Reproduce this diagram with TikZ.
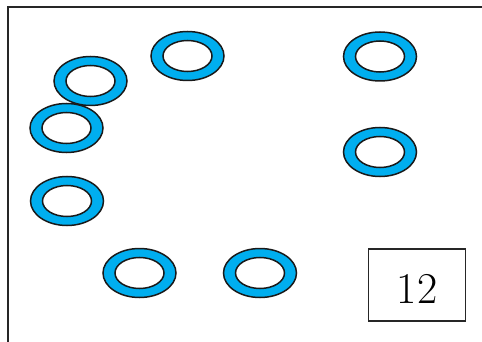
\documentclass[tikz,border=0pt]{standalone}
\definecolor{ringblue}{HTML}{00AEEF}
\usetikzlibrary{shapes.geometric}
\tikzset{
  ringouter/.style={ellipse, draw=black!90, line width=1.5pt, fill=ringblue, minimum width=73pt, minimum height=49pt, inner sep=0pt},
  ringinner/.style={ellipse, draw=black!90, line width=1.5pt, fill=white, minimum width=49pt, minimum height=31pt, inner sep=0pt},
  framebox/.style={draw=black!85, line width=1.3pt, minimum width=97pt, minimum height=72pt, inner sep=0pt},
  frameline/.style={draw=black!85, line width=2pt}
}
\begin{document}
\begin{tikzpicture}[x=1pt,y=-1pt]
\useasboundingbox (0,0) rectangle (482,342);
\coordinate (fbl) at (7.5,342);
\coordinate (ftl) at (7.5,7.5);
\coordinate (ftr) at (482,7.5);
\draw[frameline] (fbl) -- (ftl) -- (ftr);
\foreach \n/\x/\y in {a/90.5/81, b/187.5/56, c/380/56.5, d/66.5/128, e/380/152, f/67/201, g/139.5/273, h/260/273}{
  \node[ringouter] (o\n) at (\x,\y) {};
  \node[ringinner] (i\n) at (o\n.center) {};
}
\node[framebox] (box) at (417,285) {};
\node[inner sep=0pt] (num) at ([yshift=-4pt]box.center) {\fontsize{44}{44}\selectfont 12};
\end{tikzpicture}
\end{document}
